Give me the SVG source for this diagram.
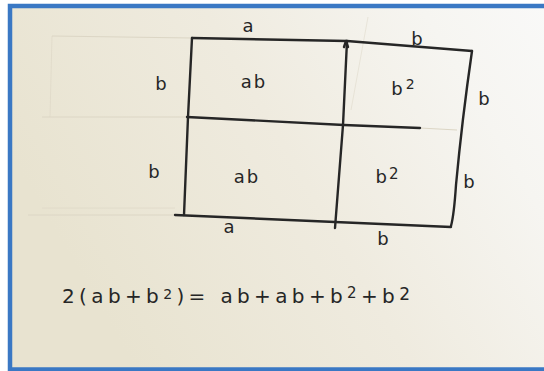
<svg xmlns="http://www.w3.org/2000/svg" width="544" height="371" viewBox="0 0 544 371">
<defs>
<linearGradient id="paper" x1="0" y1="0.4" x2="1" y2="0">
<stop offset="0" stop-color="#e8e3d0"/>
<stop offset="0.45" stop-color="#efebdf"/>
<stop offset="0.8" stop-color="#f6f5f1"/>
<stop offset="1" stop-color="#f9f9f8"/>
</linearGradient>
<style>
.ink{fill:none;stroke:#262626;stroke-width:2.4;stroke-linecap:round;stroke-linejoin:round}
.guide{fill:none;stroke:#dcd6c5;stroke-width:1}
.lbl{font-family:"DejaVu Sans","Liberation Sans",sans-serif;font-size:18px;fill:#262626;text-anchor:middle}
.eq{font-family:"DejaVu Sans","Liberation Sans",sans-serif;font-size:20px;fill:#262626}
</style>
</defs>
<rect width="544" height="371" fill="#ffffff"/>
<rect x="8" y="4" width="536" height="367" fill="url(#paper)"/>
<g id="guides">
<path class="guide" d="M52,36 L192,38"/>
<path class="guide" d="M42,117 L187,117"/>
<path class="guide" d="M52,36 L50,117" stroke-opacity="0.6"/>
<path class="guide" d="M28,215 L175,215"/>
<path class="guide" d="M42,208 L175,208" stroke-opacity="0.6"/>
<path class="guide" d="M368,17 L351,110" stroke-opacity="0.5"/>
<path class="guide" d="M420,128 L457,130"/>
</g>
<g id="grid">
<path class="ink" d="M192,38 L347,41 L472,51"/>
<path class="ink" d="M192,38 L188,117 L184,215"/>
<path class="ink" d="M187,117 L344,125 L420,128"/>
<path class="ink" d="M347,41 L343,125 L335,228"/>
<path class="ink" d="M344,47 L346,41 L348,47"/>
<path class="ink" d="M472,51 Q462,120 456,185 Q454,215 451,226"/>
<path class="ink" d="M175,215 L335,222 L451,227"/>
</g>
<g id="labels">
<text class="lbl" x="248" y="32">a</text>
<text class="lbl" x="417" y="45">b</text>
<text class="lbl" x="161" y="90">b</text>
<text class="lbl" x="254" y="88" letter-spacing="2">ab</text>
<text class="lbl" x="403" y="95">b<tspan dx="3" dy="-6" font-size="14">2</tspan></text>
<text class="lbl" x="484" y="105">b</text>
<text class="lbl" x="154" y="178">b</text>
<text class="lbl" x="247" y="183" letter-spacing="2">ab</text>
<text class="lbl" x="387" y="183">b<tspan dx="2" dy="-4" font-size="15">2</tspan></text>
<text class="lbl" x="469" y="188">b</text>
<text class="lbl" x="229" y="233">a</text>
<text class="lbl" x="383" y="245">b</text>
</g>
<g id="equation">
<text class="eq" x="62" y="303" textLength="348">2(ab+b<tspan dy="-4" font-size="14">2</tspan><tspan dy="4">)= ab+ab+b</tspan><tspan dy="-5" font-size="15">2</tspan><tspan dy="5">+b</tspan><tspan dy="-3" font-size="17">2</tspan></text>
</g>
<rect x="10" y="6" width="570" height="363.5" fill="none" stroke="#3a78c4" stroke-width="4.5"/>
</svg>
